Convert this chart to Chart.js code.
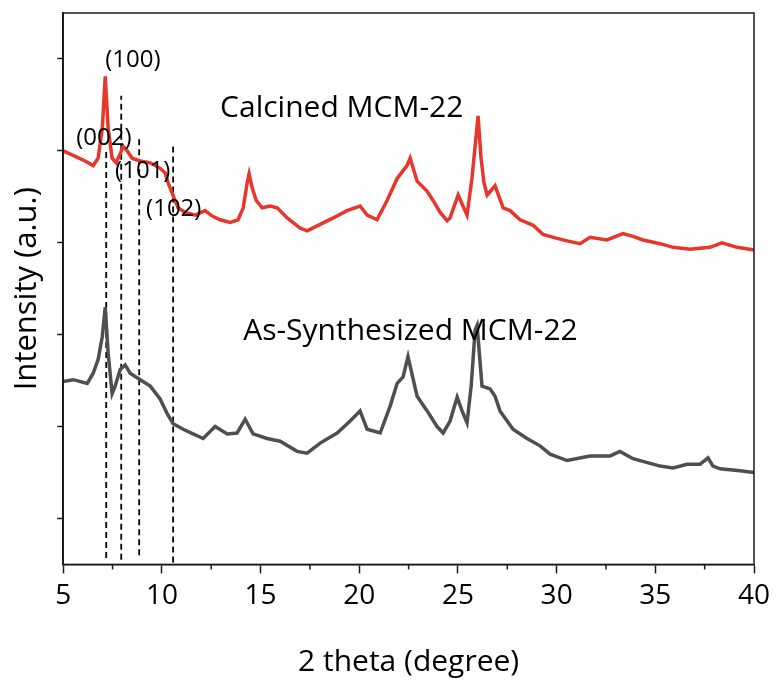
<!DOCTYPE html>
<html lang="en">

<head>
    <meta charset="UTF-8">
    <title>XRD MCM-22</title>
    <script src="https://cdn.jsdelivr.net/npm/chart.js"></script>
    <style>
        body {
            margin: 0;
            background: #fff;
        }

        canvas {
            display: block;
        }
    </style>
</head>

<body>
    <canvas id="xrd" width="777" height="686"></canvas>

    <script>
        // calcined sample
        const calcinedAngle = [5.00, 5.61, 6.11, 6.52, 6.77, 6.98, 7.13, 7.28, 7.48, 7.68, 7.89, 8.04, 8.24, 8.49, 8.90,
            9.41, 9.91, 10.17, 10.32, 10.52, 10.82, 11.18, 11.69, 12.19, 12.55, 12.95, 13.46, 13.86, 14.12, 14.32, 14.42,
            14.57, 14.78, 15.08, 15.48, 15.84, 16.35, 17.00, 17.36, 18.02, 18.68, 19.38, 20.04, 20.40, 20.90, 21.41,
            21.92, 22.42, 22.58, 22.93, 23.44, 23.74, 24.10, 24.45, 24.60, 25.01, 25.46, 25.71, 26.02, 26.17, 26.32,
            26.48, 26.88, 27.29, 27.64, 28.15, 28.81, 29.31, 29.97, 30.53, 31.19, 31.69, 32.55, 33.36, 33.87,
            34.37, 35.24, 35.90, 36.76, 37.77, 38.38, 39.14, 40.00];
        const calcinedIntensity = [5.00, 4.94, 4.89, 4.84, 4.92, 5.24, 5.81, 5.24, 4.92, 4.87, 4.97, 5.05, 5.00, 4.92, 4.89,
            4.87, 4.81, 4.76, 4.65, 4.54, 4.38, 4.33, 4.30, 4.35, 4.29, 4.25, 4.22, 4.25, 4.38, 4.65, 4.75,
            4.60, 4.46, 4.38, 4.40, 4.38, 4.27, 4.16, 4.13, 4.20, 4.27, 4.35, 4.40, 4.30, 4.25, 4.46,
            4.70, 4.84, 4.92, 4.67, 4.56, 4.46, 4.33, 4.24, 4.27, 4.52, 4.30, 4.70, 5.38, 4.92, 4.65,
            4.52, 4.62, 4.38, 4.35, 4.25, 4.19, 4.09, 4.05, 4.02, 3.99, 4.06, 4.03, 4.10, 4.07, 4.03,
            3.99, 3.95, 3.93, 3.95, 4.00, 3.95, 3.92, 3.92];

        // as-synthesized sample
        const synthAngle = [5.00, 5.51, 6.22, 6.52, 6.77, 6.98, 7.13, 7.28, 7.48, 7.63, 7.89, 8.14, 8.39, 8.90, 9.41, 9.91,
            10.27, 10.57, 11.08, 11.58, 12.09, 12.70, 13.31, 13.81, 14.22, 14.62, 15.33, 15.99, 16.85, 17.36, 18.02,
            18.88, 19.54, 20.04, 20.40, 21.06, 21.56, 21.92, 22.22, 22.47, 22.93, 23.44, 23.94, 24.25, 24.60, 24.96,
            25.21, 25.46, 25.67, 25.87, 25.97, 26.22, 26.63, 26.88, 27.13, 27.79, 28.50, 29.16, 29.67, 30.53, 31.69,
            32.71, 33.21, 33.87, 35.24, 35.90, 36.61, 37.27, 37.67, 37.92, 38.28, 39.29, 40.00];
        const synthIntensity = [2.49, 2.51, 2.47, 2.58, 2.73, 2.98, 3.30, 2.79, 2.36, 2.44, 2.62, 2.67, 2.58, 2.51, 2.44, 2.30,
            2.14, 2.03, 1.97, 1.92, 1.87, 2.00, 1.92, 1.93, 2.08, 1.92, 1.87, 1.84, 1.73, 1.71, 1.82,
            1.93, 2.06, 2.17, 1.97, 1.93, 2.22, 2.47, 2.54, 2.76, 2.33, 2.17, 2.00, 1.93, 2.06, 2.32,
            2.17, 2.04, 2.44, 3.05, 3.10, 2.44, 2.41, 2.33, 2.17, 1.97, 1.87, 1.79, 1.70, 1.63, 1.68,
            1.68, 1.73, 1.65, 1.57, 1.55, 1.59, 1.59, 1.66, 1.57, 1.54, 1.52, 1.50];

        // reflection markers (dashed guides)
        const hklAngle = [7.18, 7.94, 8.85, 10.57];
        const hklTop = [5.00, 5.60, 5.16, 5.08];
        const hklBottom = [0.57, 0.55, 0.60, 0.52];

        // reflection labels, left edge + baseline
        const hklText = ['(100)', '(002)', '(101)', '(102)'];
        const hklTextAngle = [7.13, 5.66, 7.63, 9.20];
        const hklTextIntensity = [5.91, 5.06, 4.70, 4.29];

        // sample names
        const sampleText = ['Calcined MCM-22', 'As-Synthesized MCM-22'];
        const sampleTextAngle = [12.95, 14.12];
        const sampleTextIntensity = [5.37, 2.94];

        const xTicks = [5, 10, 15, 20, 25, 30, 35, 40];
        const xMinorTicks = [7.5, 12.5, 17.5, 22.5, 27.5, 32.5, 37.5];
        const yTicks = [1, 2, 3, 4, 5, 6];

        const FONT = "'Open Sans', sans-serif";
        const AXIS = '#1a1a1a';

        function toPoints(xs, ys) {
            return xs.map((x, i) => ({ x: x, y: ys[i] }));
        }

        var datasets = [{
            label: 'Calcined MCM-22',
            data: toPoints(calcinedAngle, calcinedIntensity),
            borderColor: '#e8362b',
            borderWidth: 3.5,
            pointRadius: 0,
            tension: 0
        }, {
            label: 'As-Synthesized MCM-22',
            data: toPoints(synthAngle, synthIntensity),
            borderColor: '#4f4f4f',
            borderWidth: 3.5,
            pointRadius: 0,
            tension: 0
        }];

        for (var i = 0; i < hklAngle.length; i++) {
            datasets.push({
                label: 'hkl' + i,
                data: [{ x: hklAngle[i], y: hklBottom[i] }, { x: hklAngle[i], y: hklTop[i] }],
                borderColor: '#000',
                borderWidth: 1.8,
                borderDash: [6, 4],
                pointRadius: 0
            });
        }

        // box around the plot + minor x ticks
        const framePlugin = {
            id: 'frame',
            afterDraw(chart) {
                const { ctx, chartArea: a, scales } = chart;
                ctx.save();
                ctx.strokeStyle = AXIS;
                ctx.lineWidth = 1.5;
                ctx.strokeRect(a.left, a.top, a.right - a.left, a.bottom - a.top);
                ctx.beginPath();
                xMinorTicks.forEach(v => {
                    const px = scales.x.getPixelForValue(v);
                    ctx.moveTo(px, a.bottom);
                    ctx.lineTo(px, a.bottom + 5);
                });
                ctx.stroke();
                ctx.restore();
            }
        };

        // text annotations placed in data coordinates
        const labelPlugin = {
            id: 'labels',
            afterDatasetsDraw(chart) {
                const { ctx, scales } = chart;
                ctx.save();
                ctx.fillStyle = '#000';
                ctx.textAlign = 'left';
                ctx.textBaseline = 'alphabetic';
                ctx.font = '24px ' + FONT;
                hklText.forEach((t, i) => {
                    ctx.fillText(t, scales.x.getPixelForValue(hklTextAngle[i]), scales.y.getPixelForValue(hklTextIntensity[i]));
                });
                ctx.font = '30px ' + FONT;
                sampleText.forEach((t, i) => {
                    ctx.fillText(t, scales.x.getPixelForValue(sampleTextAngle[i]), scales.y.getPixelForValue(sampleTextIntensity[i]));
                });
                ctx.restore();
            }
        };

        new Chart(document.getElementById('xrd'), {
            type: 'line',
            data: { datasets: datasets },
            plugins: [framePlugin, labelPlugin],
            options: {
                responsive: false,
                animation: false,
                layout: { padding: { top: 13, right: 23, left: 0, bottom: 0 } },
                plugins: {
                    legend: { display: false },
                    tooltip: { enabled: false }
                },
                scales: {
                    x: {
                        type: 'linear',
                        min: 5,
                        max: 40,
                        afterBuildTicks: s => { s.ticks = xTicks.map(v => ({ value: v })); },
                        ticks: {
                            color: '#000',
                            font: { family: FONT, size: 28 },
                            padding: 6,
                            maxRotation: 0,
                            autoSkip: false
                        },
                        grid: { drawOnChartArea: false, tickLength: 9, color: AXIS, tickWidth: 1.5 },
                        border: { color: AXIS, width: 1.5 },
                        title: {
                            display: true,
                            text: '2 theta (degree)',
                            color: '#000',
                            font: { family: FONT, size: 30 },
                            padding: { top: 25, bottom: 6 }
                        }
                    },
                    y: {
                        type: 'linear',
                        min: 0.5,
                        max: 6.5,
                        afterBuildTicks: s => { s.ticks = yTicks.map(v => ({ value: v })); },
                        ticks: { display: false },
                        grid: { drawOnChartArea: false, tickLength: 6, color: AXIS, tickWidth: 1.5 },
                        border: { color: AXIS, width: 1.5 },
                        title: {
                            display: true,
                            text: 'Intensity (a.u.)',
                            color: '#000',
                            font: { family: FONT, size: 31 },
                            padding: { top: 9, bottom: 11 }
                        }
                    }
                }
            }
        });
    </script>
</body>

</html>
